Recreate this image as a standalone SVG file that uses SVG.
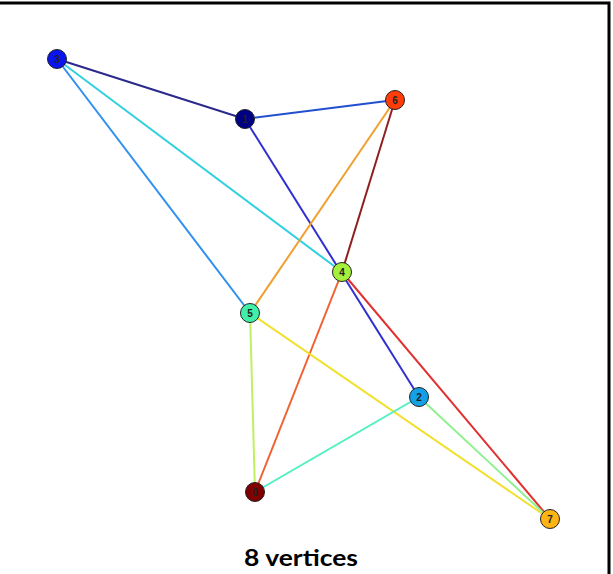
<svg xmlns="http://www.w3.org/2000/svg" width="613" height="574" viewBox="0 0 613 574">
<style>
.e{stroke-width:2;fill:none}
.n circle{stroke:#222;stroke-width:1}
.n text{font-family:"Liberation Sans",Arial,sans-serif;font-size:10px;font-weight:bold;fill:#222;text-anchor:middle;dominant-baseline:central}
.t{font-family:Lato,"Open Sans","Liberation Sans",sans-serif;font-size:23px;font-weight:bold;fill:#000;text-anchor:middle}
</style>
<rect x="0" y="0" width="613" height="574" fill="#fff"/>
<path d="M0,3 H609 V574" stroke="#000" stroke-width="3" fill="none"/>
<g id="edges">
<line class="e" x1="57" y1="59" x2="245" y2="119" stroke="#2a2a8c"/>
<line class="e" x1="57" y1="59" x2="342" y2="272" stroke="#30d0e0"/>
<line class="e" x1="57" y1="59" x2="250" y2="313" stroke="#3090f0"/>
<line class="e" x1="245" y1="119" x2="395" y2="100" stroke="#2050d0"/>
<line class="e" x1="245" y1="119" x2="419" y2="397" stroke="#3030d0"/>
<line class="e" x1="395" y1="100" x2="250" y2="313" stroke="#f0a030"/>
<line class="e" x1="395" y1="100" x2="342" y2="272" stroke="#902020"/>
<line class="e" x1="342" y1="272" x2="255" y2="492" stroke="#f06030"/>
<line class="e" x1="342" y1="272" x2="550" y2="519" stroke="#e03030"/>
<line class="e" x1="250" y1="313" x2="255" y2="492" stroke="#c0f060"/>
<line class="e" x1="250" y1="313" x2="550" y2="519" stroke="#f0e030"/>
<line class="e" x1="419" y1="397" x2="255" y2="492" stroke="#50f0c0"/>
<line class="e" x1="419" y1="397" x2="550" y2="519" stroke="#90f090"/>
</g>
<g id="node3" class="n"><circle cx="57" cy="59" r="9.5" fill="#0a14f0"/><text x="57" y="59">3</text></g>
<g id="node1" class="n"><circle cx="245" cy="119" r="9.5" fill="#000084"/><text x="245" y="119">1</text></g>
<g id="node6" class="n"><circle cx="395" cy="100" r="9.5" fill="#ff3c0a"/><text x="395" y="100">6</text></g>
<g id="node4" class="n"><circle cx="342" cy="272" r="9.5" fill="#a4f03c"/><text x="342" y="272">4</text></g>
<g id="node5" class="n"><circle cx="250" cy="313" r="9.5" fill="#40f0a8"/><text x="250" y="313">5</text></g>
<g id="node2" class="n"><circle cx="419" cy="397" r="9.5" fill="#14a0e6"/><text x="419" y="397">2</text></g>
<g id="node0" class="n"><circle cx="255" cy="492" r="9.5" fill="#800000"/><text x="255" y="492">0</text></g>
<g id="node7" class="n"><circle cx="550" cy="519" r="9.5" fill="#ffb414"/><text x="550" y="519">7</text></g>
<text class="t" x="301" y="566" textLength="114" lengthAdjust="spacingAndGlyphs">8 vertices</text>
</svg>
